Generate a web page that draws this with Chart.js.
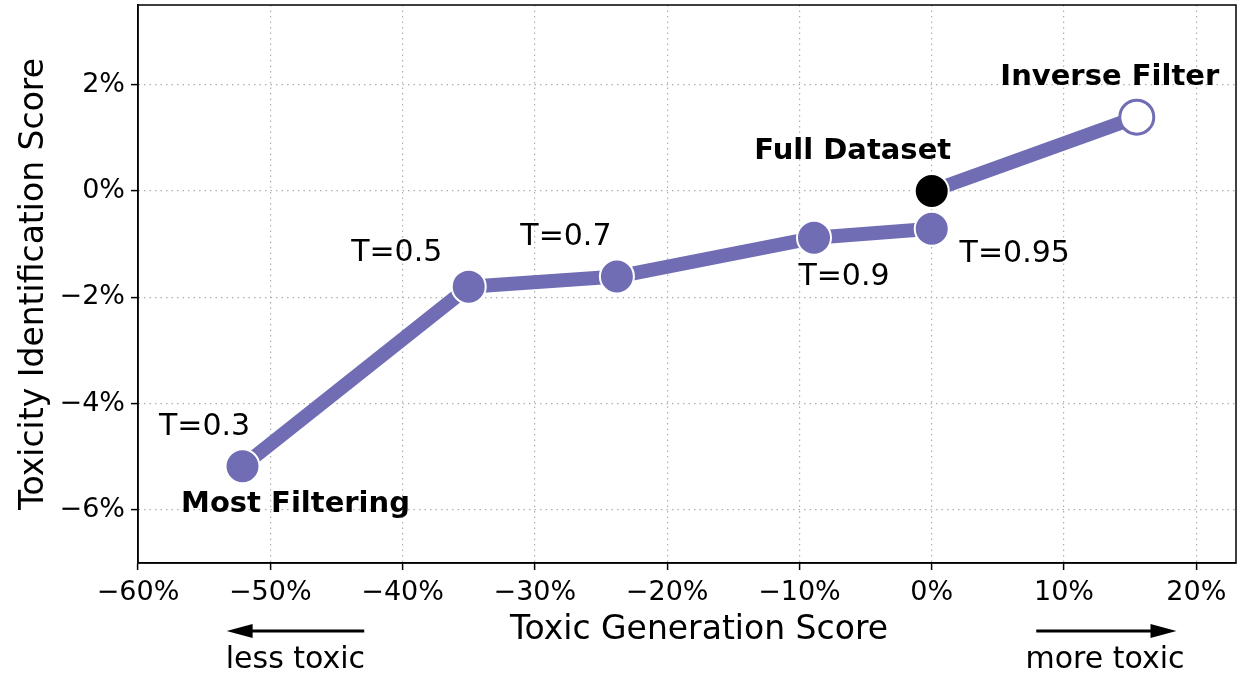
<!DOCTYPE html>
<html><head><meta charset="utf-8">
<script src="https://cdn.jsdelivr.net/npm/chart.js@4/dist/chart.umd.min.js"></script>
<style>html,body{margin:0;padding:0;background:#fff}#wrap{width:1252px;height:673px}</style>
</head><body><div id="wrap"><canvas id="c" width="1252" height="673"></canvas></div>
<script>
// ---- data ----
const thresholdLabels = ['T=0.3','T=0.5','T=0.7','T=0.9','T=0.95'];
const toxicGeneration = [-52.1,-35.0,-23.8,-8.9,0.0];
const toxicIdentification = [-5.18,-1.80,-1.61,-0.88,-0.71];
const refLabels = ['Full Dataset','Inverse Filter'];
const refGeneration = [0.0,15.5];
const refIdentification = [0.0,1.39];
const xTicks = [-60,-50,-40,-30,-20,-10,0,10,20];
const yTicks = [-6,-4,-2,0,2];
const xTitle = 'Toxic Generation Score';
const yTitle = 'Toxicity Identification Score';
const arrowTexts = ['less toxic','more toxic'];

const PURPLE = '#706db4';
const FONT = '"DejaVu Sans", sans-serif';
const fmt = v => (v < 0 ? '\u2212' + Math.abs(v) : String(v)) + '%';

const tSeries = toxicGeneration.map((x,i)=>({x, y: toxicIdentification[i]}));
const rSeries = refGeneration.map((x,i)=>({x, y: refIdentification[i]}));

const annot = {
  id: 'annot',
  afterDraw(chart) {
    const {ctx, chartArea: a, scales: {x, y}} = chart;
    ctx.save();
    // box
    ctx.strokeStyle = '#000'; ctx.lineWidth = 1.5;
    ctx.strokeRect(a.left, a.top, a.right - a.left, a.bottom - a.top);
    ctx.fillStyle = '#000';
    ctx.textAlign = 'center'; ctx.textBaseline = 'middle';
    const px = (d) => [x.getPixelForValue(d.x), y.getPixelForValue(d.y)];
    // threshold labels
    const tOff = [[-38,-39],[-72,-33],[-51,-39],[30,39],[83,25]];
    ctx.font = '30px ' + FONT;
    thresholdLabels.forEach((t,i)=>{
      const [cx,cy] = px(tSeries[i]);
      ctx.fillText(t, cx + tOff[i][0], cy + tOff[i][1]);
    });
    ctx.font = 'bold 29px ' + FONT;
    const rOff = [[-79,-40],[-27,-40]];
    refLabels.forEach((t,i)=>{
      const [cx,cy] = px(rSeries[i]);
      ctx.fillText(t, cx + rOff[i][0], cy + rOff[i][1]);
    });
    {
      const [cx,cy] = px(tSeries[0]);
      ctx.fillText('Most Filtering', cx + 53, cy + 38);
    }
    // axis titles
    ctx.font = '33px ' + FONT;
    ctx.fillText(xTitle, (a.left + a.right)/2 + 12, a.bottom + 67);
    ctx.save();
    ctx.translate(34, (a.top + a.bottom)/2);
    ctx.rotate(-Math.PI/2);
    ctx.fillText(yTitle, 0, 0);
    ctx.restore();
    // arrows
    const arrow = (fromV, toV, yy) => {
      const x0 = x.getPixelForValue(fromV), x1 = x.getPixelForValue(toV);
      const dir = Math.sign(x1 - x0);
      ctx.strokeStyle = '#000'; ctx.lineWidth = 3;
      ctx.beginPath(); ctx.moveTo(x0, yy); ctx.lineTo(x1 - dir*14, yy); ctx.stroke();
      ctx.beginPath(); ctx.moveTo(x1, yy); ctx.lineTo(x1 - dir*26, yy - 7); ctx.lineTo(x1 - dir*26, yy + 7); ctx.closePath(); ctx.fill();
    };
    const ay = a.bottom + 68;
    arrow(-42.9, -53.3, ay);
    arrow(7.9, 18.5, ay);
    ctx.font = '30px ' + FONT;
    ctx.fillText(arrowTexts[0], x.getPixelForValue(-48.1), a.bottom + 97);
    ctx.fillText(arrowTexts[1], x.getPixelForValue(13.1), a.bottom + 97);
    ctx.restore();
  }
};

new Chart(document.getElementById('c'), {
  type: 'line',
  data: {
    datasets: [
      {
        data: tSeries, order: 0,
        borderColor: PURPLE, borderWidth: 14,
        pointRadius: 17, pointBackgroundColor: PURPLE,
        pointBorderColor: '#fff', pointBorderWidth: 2,
        borderCapStyle: 'butt', borderJoinStyle: 'round', tension: 0
      },
      {
        data: rSeries, order: 1,
        borderColor: PURPLE, borderWidth: 14,
        pointRadius: 17,
        pointBackgroundColor: ['#000','#fff'],
        pointBorderColor: ['#fff', PURPLE], pointBorderWidth: [2,3],
        borderCapStyle: 'butt', tension: 0
      }
    ]
  },
  options: {
    responsive: false, animation: false,
    devicePixelRatio: 1,
    layout: { autoPadding: false, padding: { left: 0, top: 5, right: 16, bottom: 0 } },
    plugins: { legend: { display: false }, tooltip: { enabled: false } },
    scales: {
      x: {
        type: 'linear', min: -60, max: 23,
        afterBuildTicks: s => { s.ticks = xTicks.map(v => ({value: v})); },
        afterFit: s => { s.height = 110; s.paddingLeft = 0; s.paddingRight = 0; },
        grid: { color: '#b0b0b0', lineWidth: 1.2, tickColor: '#000', tickLength: 7, tickWidth: 1.5 },
        border: { dash: [1.5,4], color: '#000', width: 1.5 },
        ticks: { color: '#000', font: { family: FONT, size: 27 }, padding: 7, maxRotation: 0, callback: v => fmt(v) }
      },
      y: {
        type: 'linear', min: -7, max: 3.5,
        afterBuildTicks: s => { s.ticks = yTicks.map(v => ({value: v})); },
        afterFit: s => { s.width = 138; s.paddingTop = 0; s.paddingBottom = 0; },
        grid: { color: '#b0b0b0', lineWidth: 1.2, tickColor: '#000', tickLength: 7, tickWidth: 1.5 },
        border: { dash: [1.5,4], color: '#000', width: 1.5 },
        ticks: { color: '#000', font: { family: FONT, size: 27 }, padding: 6, callback: v => fmt(v) }
      }
    }
  },
  plugins: [annot]
});
</script></body></html>
